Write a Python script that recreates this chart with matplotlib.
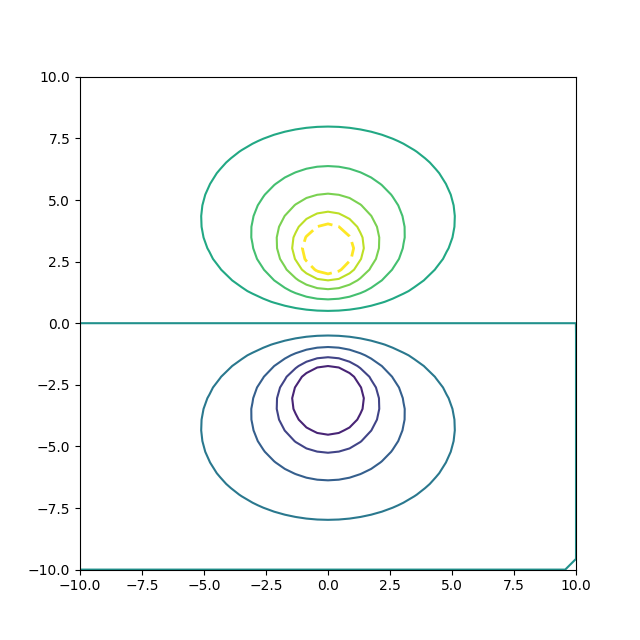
import numpy as np
import matplotlib.pyplot as plt

# two opposite line sources between grounded walls at y = +-10
source_y = 2.9
wall = 10.0
n_grid = 47

# contour levels: multiples of level_step (the -5 level is not drawn)
level_step = 0.325
level_index = np.arange(-4, 6)
dashed_index = 5

x = np.round(np.linspace(-10, 10, n_grid), 10)
y = np.round(np.linspace(-10, 10, n_grid), 10)
X, Y = np.meshgrid(x, y)

c = np.cosh(np.pi * X / wall)
Z = 0.5 * np.log((c - np.cos(np.pi * (Y + source_y) / wall)) /
                 (c - np.cos(np.pi * (Y - source_y) / wall)))
# rounding noise: middle row just below zero, edges just above
Z[n_grid // 2, :] = -1e-10
Z[-1, :] = 1e-12
Z[0, :] = 1e-12
Z[:, -1] = 1e-12

levels = level_step * level_index
colors = plt.cm.viridis((level_index + 5) / 10)
styles = [(0, (5.4, 2.2)) if k == dashed_index else 'solid' for k in level_index]
widths = [2.0 if k == dashed_index else 1.5 for k in level_index]

fig = plt.figure(figsize=(6.4, 6.4))
ax = fig.add_subplot()
ax.contour(X, Y, Z, levels=levels, colors=colors, linestyles=styles,
           linewidths=widths)

fig.savefig('out.png')
